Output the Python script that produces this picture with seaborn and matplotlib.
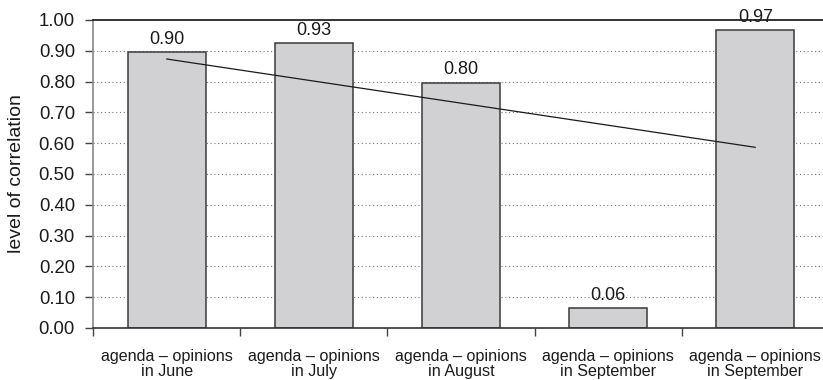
import numpy as np
import pandas as pd
import matplotlib
matplotlib.use("Agg")
import matplotlib.pyplot as plt
import seaborn as sns

categories = ["agenda \u2013 opinions\nin June", "agenda \u2013 opinions\nin July",
              "agenda \u2013 opinions\nin August", "agenda \u2013 opinions\nin September",
              "agenda \u2013 opinions\nin September"]
values = [0.896, 0.925, 0.797, 0.064, 0.968]
yticks = [0.0, 0.1, 0.2, 0.3, 0.4, 0.5, 0.6, 0.7, 0.8, 0.9, 1.0]

sns.set_theme(style="white")
plt.rcParams['font.family'] = ['Liberation Sans', 'DejaVu Sans']

df = pd.DataFrame({"pos": np.arange(len(values)), "val": values})

fig = plt.figure(figsize=(8.23, 3.80), dpi=100)
ax = fig.add_axes([93/823, 1 - 328/380, (829 - 93)/823, (328 - 20)/380])

sns.barplot(data=df, x="pos", y="val", ax=ax, color="#d1d1d3", saturation=1,
            width=0.53, edgecolor="#3a3a3a", linewidth=1.1, zorder=2)

# trend line (linear fit)
xs = np.arange(len(values))
coef = np.polyfit(xs, values, 1)
ax.plot(xs, np.polyval(coef, xs), color="#1a1a1a", lw=0.9, zorder=4)

for c in ax.containers:
    ax.bar_label(c, labels=[f"{v:.2f}" for v in values], padding=3, fontsize=13,
                 color="#1a1a1a", zorder=5)

ax.set_ylim(0, 1.0)
ax.set_xlim(-0.5, len(values) - 0.5)
ax.set_yticks(yticks)
ax.set_yticklabels([f"{t:.2f}" for t in yticks], fontsize=13.3, color="#1a1a1a")
for t in yticks[1:-1]:
    ax.axhline(t, color="#777777", lw=0.8, ls=(0, (1, 2.4)), zorder=1)

ax.set_xlabel("")
ax.set_ylabel("level of correlation", fontsize=14, color="#1a1a1a", labelpad=10)
ax.set_xticks(range(len(values)))
ax.set_xticklabels(categories)
ax.tick_params(axis="x", length=0, labelsize=11.6, labelcolor="#1a1a1a", pad=15)
ax.set_xticks(np.arange(-0.5, len(values), 1.0), minor=True)
ax.tick_params(axis="x", which="minor", direction="out", length=6, width=1, color="#444444", bottom=True)
ax.tick_params(axis="y", direction="out", length=6, width=1, color="#444444", left=True, pad=7)
for lbl in ax.get_xticklabels():
    lbl.set_linespacing(1.0)

ax.spines["left"].set_color("#888888")
ax.spines["left"].set_linewidth(1.2)
ax.spines["bottom"].set_color("#333333")
ax.spines["bottom"].set_linewidth(1.2)
ax.spines["top"].set_color("#111111")
ax.spines["top"].set_linewidth(1.2)
ax.spines["right"].set_visible(False)

fig.savefig("out.png", dpi=100)
